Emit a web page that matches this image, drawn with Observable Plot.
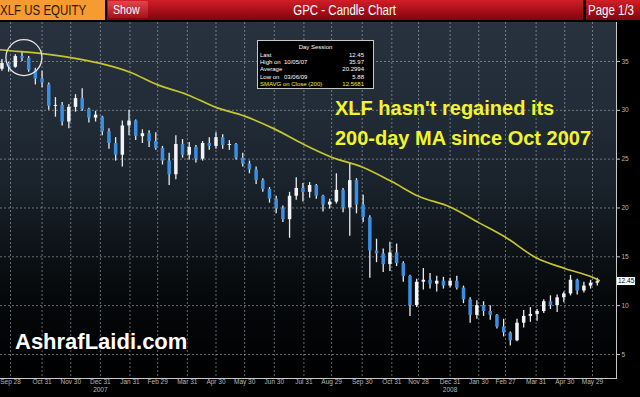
<!DOCTYPE html>
<html><head><meta charset="utf-8">
<script src="https://cdn.jsdelivr.net/npm/d3@7"></script>
<script src="https://cdn.jsdelivr.net/npm/@observablehq/plot@0.6"></script>
<style>
html,body{margin:0;padding:0;background:#000;}
#root{position:relative;width:640px;height:397px;overflow:hidden;background:#000;font-family:"Liberation Sans",Arial,sans-serif;}
#bg{position:absolute;}
#chart{position:absolute;left:0;top:20px;}
.hd{position:absolute;top:0;height:20px;line-height:20px;font-family:"Liberation Sans",Arial,sans-serif;font-size:14px;white-space:nowrap;overflow:hidden;}
.sq{display:inline-block;transform:scaleX(0.82);transform-origin:0 50%;}
#orange{left:0;width:105px;background:#f59b31;color:#2a1605;}
#redbar{left:107px;width:476px;background:linear-gradient(#d21e27,#a30d17 60%,#7d0710);color:#fff;}
#show{position:absolute;left:1px;top:1px;width:40px;height:17px;line-height:17px;background:linear-gradient(#e0474d,#a81019);border-radius:2px;font-size:13px;}
#show .sq{margin-left:5px;}
#title{position:absolute;left:0;width:100%;text-align:center;}
#title .sq{transform-origin:50% 50%;}
#page{left:586px;width:60px;background:linear-gradient(#d21e27,#a30d17 60%,#7d0710);color:#fff;padding-left:2px;}
#note{position:absolute;left:335px;top:93px;color:#f4f42a;font-weight:bold;font-size:20px;line-height:30px;white-space:nowrap;}
#brand{position:absolute;left:15px;top:331px;color:#fff;font-weight:bold;font-size:22px;line-height:22px;text-shadow:1px 1px 2px #000,0 0 3px #000;}
#legend{position:absolute;left:257px;top:40px;width:115px;height:47px;background:#000;border:1px solid #c8c8c8;color:#fff;font-size:6px;line-height:7px;}
#legend .r{position:absolute;left:2px;right:9px;white-space:nowrap;}
#legend .v{position:absolute;right:0;}
#legend .d{position:absolute;left:24px;}
#last{position:absolute;background:#fff;color:#000;font-size:6.5px;line-height:8px;height:8px;padding:0 1px;}
</style></head><body>
<div id="root">
  <div id="bg"></div>
  <div id="chart"></div>
  <div class="hd" id="orange"><span class="sq">XLF US EQUITY</span></div>
  <div class="hd" id="redbar"><div id="title"><span class="sq">GPC - Candle Chart</span></div><div id="show"><span class="sq">Show</span></div></div>
  <div class="hd" id="page"><span class="sq">Page 1/3</span></div>
  <div id="note">XLF hasn't regained its<br>200-day MA since Oct 2007</div>
  <div id="brand">AshrafLaidi.com</div>
  <div id="legend"></div>
  <div id="last"></div>
</div>
<script>
// ---- weekly candles (week mid-dates) ----
const weeks = [
 "2007-09-19","2007-09-26","2007-10-03","2007-10-10","2007-10-17","2007-10-24","2007-10-31","2007-11-07","2007-11-14","2007-11-21","2007-11-28","2007-12-05","2007-12-12","2007-12-19","2007-12-26",
 "2008-01-02","2008-01-09","2008-01-16","2008-01-23","2008-01-30","2008-02-06","2008-02-13","2008-02-20","2008-02-27","2008-03-05","2008-03-12","2008-03-19","2008-03-26","2008-04-02","2008-04-09","2008-04-16","2008-04-23","2008-04-30","2008-05-07","2008-05-14","2008-05-21","2008-05-28","2008-06-04","2008-06-11","2008-06-18","2008-06-25","2008-07-02","2008-07-09","2008-07-16","2008-07-23","2008-07-30","2008-08-06","2008-08-13","2008-08-20","2008-08-27","2008-09-03","2008-09-10","2008-09-17","2008-09-24","2008-10-01","2008-10-08","2008-10-15","2008-10-22","2008-10-29","2008-11-05","2008-11-12","2008-11-19","2008-11-26","2008-12-03","2008-12-10","2008-12-17","2008-12-24","2008-12-31",
 "2009-01-07","2009-01-14","2009-01-21","2009-01-28","2009-02-04","2009-02-11","2009-02-18","2009-02-25","2009-03-04","2009-03-11","2009-03-18","2009-03-25","2009-04-01","2009-04-08","2009-04-15","2009-04-22","2009-04-29","2009-05-06","2009-05-13","2009-05-20","2009-05-27","2009-06-03"];
const open = [
 34.2,34.8,34.4,35.5,35.3,34.1,33.2,32.6,30.4,30.5,28.8,30.3,31.2,30.1,29.2,
 29.3,27.8,26.6,25.4,28.4,28.9,27.3,27.6,26.8,26.1,24.8,23.4,26.5,25.4,26.2,25.0,26.6,26.3,27.2,26.4,26.5,25.1,24.5,23.9,22.8,21.9,20.9,19.9,18.8,21.2,22.0,21.6,22.3,21.2,20.3,20.6,21.8,20.0,22.8,20.3,19.0,15.6,15.3,14.2,15.4,14.3,13.0,10.0,12.4,12.6,12.2,12.5,12.0,
 12.5,11.8,10.6,9.0,10.0,9.4,9.0,7.8,7.2,6.4,8.2,8.9,9.1,9.4,10.4,10.0,10.8,11.2,12.6,11.5,12.0,12.3];
const high = [
 35.2,34.9,35.7,35.97,35.5,34.3,34.0,32.8,31.3,30.8,30.6,31.6,32.2,30.2,29.9,
 29.4,28.1,27.2,28.9,30.0,29.0,28.0,27.9,27.7,26.3,25.6,27.4,27.0,26.7,26.4,26.8,27.2,27.7,27.5,26.9,26.6,25.6,24.8,24.2,23.0,22.1,21.2,20.2,21.6,23.1,22.5,22.6,22.4,21.3,20.9,23.5,22.0,24.6,23.0,21.3,19.2,16.8,15.8,16.5,16.3,14.5,13.1,12.7,13.8,13.3,13.0,12.9,12.8,
 13.0,12.0,10.8,10.5,10.4,10.0,9.1,8.6,7.3,8.6,9.5,9.8,9.6,10.6,11.0,11.1,11.4,13.1,12.7,12.4,12.6,12.8];
const low = [
 34.0,33.9,34.3,35.0,33.9,32.6,32.3,30.0,29.3,28.4,28.1,29.8,29.9,28.7,28.8,
 27.4,26.0,24.8,24.2,27.4,26.9,26.6,26.2,25.9,24.4,22.3,22.9,25.1,24.9,24.6,24.8,25.9,26.0,26.0,25.9,24.9,24.2,23.5,22.4,21.6,20.5,19.4,18.5,16.9,20.8,20.6,21.0,20.9,19.6,19.9,20.4,19.5,17.1,19.4,18.5,12.8,14.4,13.4,13.5,14.0,12.4,8.9,9.8,11.6,11.7,11.4,11.7,11.8,
 11.6,10.2,8.2,8.6,8.9,8.5,7.6,6.8,5.88,6.3,7.7,8.3,8.4,9.2,9.6,9.3,10.3,11.0,11.1,11.3,11.7,12.0];
const close = [
 34.8,34.4,35.5,35.3,34.1,33.2,32.8,30.4,30.5,28.8,30.3,31.2,30.1,29.2,29.5,
 27.8,26.6,25.4,28.4,28.9,27.3,27.6,26.8,26.1,24.8,23.4,26.5,25.4,26.2,25.0,26.6,26.3,27.2,26.4,26.5,25.1,24.5,23.9,22.8,21.9,20.9,19.9,18.8,21.2,22.0,21.6,22.3,21.2,20.3,20.6,21.8,20.0,22.8,20.3,19.0,15.6,15.3,14.2,15.4,14.3,13.0,10.0,12.4,12.6,12.2,12.5,12.0,12.5,
 11.8,10.6,9.0,10.0,9.4,9.0,7.8,7.2,6.4,8.2,8.9,9.1,9.4,10.4,10.0,10.8,11.2,12.6,11.5,12.0,12.3,12.45];

// ---- 200-day moving average ----
const maDates = ["2007-09-17","2007-09-28","2007-10-31","2007-11-30","2007-12-31","2008-01-31","2008-02-29","2008-03-31","2008-04-30","2008-05-30","2008-06-30","2008-07-31","2008-08-29","2008-09-30","2008-10-31","2008-11-28","2008-12-31","2009-01-30","2009-02-27","2009-03-31","2009-04-30","2009-05-29","2009-06-05"];
const maValues = [36.2,36.1,35.8,35.4,34.8,33.9,32.6,31.6,30.3,29.4,28.1,26.5,25.2,24.2,22.7,21.2,20.1,18.5,17.0,14.9,13.8,12.9,12.57];

// ---- axes ----
const tickDates = ["2007-09-28","2007-10-31","2007-11-30","2007-12-31","2008-01-31","2008-02-29","2008-03-31","2008-04-30","2008-05-30","2008-06-30","2008-07-31","2008-08-29","2008-09-30","2008-10-31","2008-11-28","2008-12-31","2009-01-30","2009-02-27","2009-03-31","2009-04-30","2009-05-29"];
const tickLabels = ["Sep 28","Oct 31","Nov 30","Dec 31","Jan 31","Feb 29","Mar 31","Apr 30","May 30","Jun 30","Jul 31","Aug 29","Sep 30","Oct 31","Nov 28","Dec 31","Jan 30","Feb 27","Mar 31","Apr 30","May 29"];
const yearDates = ["2007-12-31","2008-12-31"];
const yearLabels = ["2007","2008"];
const yTicks = [5,10,15,20,25,30,35];

// ---- annotations ----
const circleDate = ["2007-10-12"];
const circleValue = [35.4];
const legendRows = [
  ["Last","","12.45"],
  ["High on","10/05/07","35.97"],
  ["Average","","20.2994"],
  ["Low on","03/06/09","5.88"],
  ["SMAVG on Close (200)","","12.5681"]
];
const lastPrice = 12.45;

const candles = weeks.map((w,i)=>({date:new Date(w),open:open[i],high:high[i],low:low[i],close:close[i]}));
const ma = maDates.map((d,i)=>({date:new Date(d),value:maValues[i]}));
const ticks = tickDates.map(d=>new Date(d));
const labelMap = new Map(ticks.map((d,i)=>[+d,tickLabels[i]]));
const years = yearDates.map((d,i)=>({date:new Date(d),label:yearLabels[i]}));
const circ = circleDate.map((d,i)=>({date:new Date(d),value:circleValue[i]}));
const colorOf = d => d.close >= d.open ? "#f2f4f6" : "#3a8fe0";

const grid = {stroke:"#b4bcc6", strokeOpacity:0.55, strokeDasharray:"2,2", strokeWidth:1};

const plot = Plot.plot({
  width:640, height:377,
  marginLeft:0, marginRight:24, marginTop:2, marginBottom:19,
  style:{background:"transparent", color:"#b8b8b8", fontFamily:"'Liberation Sans',Arial,sans-serif", fontSize:"6.5px", overflow:"visible"},
  x:{type:"utc", domain:[new Date(Date.UTC(2007,8,17,12)), new Date(Date.UTC(2009,5,23,3))]},
  y:{domain:[2.54,38.99]},
  marks:[
    Plot.gridY(yTicks, grid),
    Plot.gridX(ticks, grid),
    Plot.ruleX(candles,{x:"date",y1:"low",y2:"high",stroke:"#e8ecf0",strokeWidth:1.3}),
    Plot.ruleX(candles,{x:"date",y1:"open",y2:"close",stroke:colorOf,strokeWidth:3.5}),
    Plot.line(ma,{x:"date",y:"value",stroke:"#c6c530",strokeWidth:1.7,curve:"monotone-x"}),
    Plot.dot(circ,{x:"date",y:"value",r:18,stroke:"#e4e4e4",strokeWidth:1.3,fill:"none"}),
    Plot.axisY(yTicks,{anchor:"right",tickSize:3,tickPadding:2,stroke:"#c8c8c8",fill:"#b8b8b8"}),
    Plot.axisX(ticks,{tickSize:0,tickPadding:1,tickFormat:d=>labelMap.get(+d),fill:"#b8b8b8"}),
    Plot.frame({anchor:"right",stroke:"#c8c8c8"}),
    Plot.frame({anchor:"bottom",stroke:"#c8c8c8"}),
    Plot.text(years,{x:"date",text:"label",frameAnchor:"bottom",dy:13,fill:"#b8b8b8"})
  ]
});
document.getElementById("chart").appendChild(plot);

// background of the plotting frame
const xs = plot.scale("x").range, ys = plot.scale("y").range;
const bg = document.getElementById("bg");
bg.style.left = Math.min(...xs)+"px";
bg.style.width = (Math.max(...xs)-Math.min(...xs))+"px";
bg.style.top = (20+Math.min(...ys))+"px";
bg.style.height = (Math.max(...ys)-Math.min(...ys))+"px";
bg.style.background = "linear-gradient(to bottom,#28323e 0%,#222c37 25%,#1a232c 45%,#0e1419 62%,#05080a 78%,#000 100%)";

// last-price tag on the axis
const last = document.getElementById("last");
last.textContent = lastPrice.toFixed(2);
last.style.left = (Math.max(...xs)+1)+"px";
last.style.top = (20+plot.scale("y").apply(lastPrice)-4)+"px";

// legend box
const lg = document.getElementById("legend");
let html = '<div style="position:absolute;top:3px;width:100%;text-align:center">Day Session</div>';
legendRows.forEach((r,i)=>{
  const col = i===legendRows.length-1 ? "#f4f42a" : "#fff";
  html += `<div class="r" style="top:${11+i*7.2}px;color:${col}"><span>${r[0]}</span><span class="d">${r[1]}</span><span class="v">${r[2]}</span></div>`;
});
lg.innerHTML = html;
</script>
</body></html>
